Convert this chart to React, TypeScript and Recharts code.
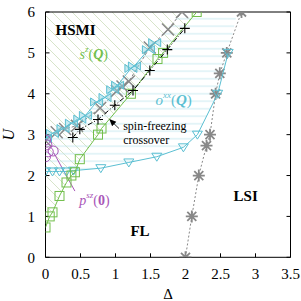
import React from 'react';
import { ComposedChart, XAxis, YAxis, Scatter, Area, ReferenceDot, ReferenceLine } from 'recharts';

const xTicks = [0, 0.5, 1, 1.5, 2, 2.5, 3, 3.5];
const yTicks = [0, 1, 2, 3, 4, 5, 6];

// s^z(Q) boundary (green squares)
const szQ = [
  { x: 0, y: 0.73 }, { x: 0.06, y: 1.0 }, { x: 0.1, y: 1.1 }, { x: 0.2, y: 1.5 },
  { x: 0.3, y: 1.83 }, { x: 0.37, y: 2.0 }, { x: 0.42, y: 2.08 }, { x: 0.49, y: 2.4 },
  { x: 0.75, y: 3.0 }, { x: 0.8, y: 3.15 }, { x: 1.22, y: 4.0 }, { x: 1.6, y: 4.85 },
  { x: 1.68, y: 5.0 }, { x: 2.16, y: 6.0 },
];

// o^xx(Q) lower / right edge (cyan down triangles)
const oxxEdge = [
  { x: 0, y: 2.1 }, { x: 0.1, y: 2.1 }, { x: 0.2, y: 2.1 }, { x: 0.3, y: 2.1 },
  { x: 0.4, y: 2.12 }, { x: 0.79, y: 2.18 }, { x: 1.19, y: 2.32 }, { x: 1.59, y: 2.46 },
  { x: 1.97, y: 2.69 }, { x: 2.17, y: 3.0 }, { x: 2.46, y: 4.0 }, { x: 2.61, y: 5.0 },
];

// o^xx(Q) upper edge (cyan bowties)
const oxxDiag = [
  { x: 0, y: 2.9 }, { x: 0.1, y: 3.03 }, { x: 0.25, y: 3.15 }, { x: 0.37, y: 3.28 },
  { x: 0.49, y: 3.38 }, { x: 0.57, y: 3.47 }, { x: 0.73, y: 3.8 }, { x: 0.85, y: 3.91 },
  { x: 0.96, y: 4.1 }, { x: 1.03, y: 4.21 }, { x: 1.22, y: 4.62 }, { x: 1.27, y: 4.68 },
  { x: 1.47, y: 5.08 }, { x: 1.56, y: 5.25 },
];

// hatched o^xx(Q) region
const oxxBand = [
  { x: 0, lo: 2.1, hi: 2.9 }, { x: 0.25, lo: 2.1, hi: 3.15 }, { x: 0.49, lo: 2.13, hi: 3.38 },
  { x: 0.73, lo: 2.17, hi: 3.8 }, { x: 0.96, lo: 2.24, hi: 4.1 }, { x: 1.22, lo: 2.33, hi: 4.62 },
  { x: 1.47, lo: 2.42, hi: 5.08 }, { x: 1.56, lo: 2.45, hi: 5.25 }, { x: 1.94, lo: 2.66, hi: 6 },
  { x: 2.17, lo: 3.0, hi: 6 }, { x: 2.46, lo: 4.0, hi: 6 }, { x: 2.61, lo: 5.0, hi: 6 },
  { x: 2.74, lo: 6, hi: 6 },
];

// gray crosses (diagonal)
const grayX = [
  { x: 0, y: 2.85 }, { x: 0.16, y: 3.06 }, { x: 0.28, y: 3.14 }, { x: 0.45, y: 3.22 },
  { x: 0.78, y: 3.65 }, { x: 1.02, y: 4.07 }, { x: 1.1, y: 4.18 }, { x: 1.19, y: 4.3 },
  { x: 1.49, y: 5.13 }, { x: 1.75, y: 5.57 }, { x: 1.95, y: 6.0 },
];

// LSI boundary (gray asterisks)
const lsiEdge = [
  { x: 2.0, y: 0 }, { x: 2.09, y: 1.0 }, { x: 2.19, y: 2.0 }, { x: 2.3, y: 2.73 },
  { x: 2.35, y: 3.0 }, { x: 2.43, y: 4.0 }, { x: 2.49, y: 4.5 }, { x: 2.59, y: 5.0 },
  { x: 2.8, y: 6.0 },
];

// spin-freezing crossover (black plus)
const freezing = [
  { x: 0.39, y: 2.93 }, { x: 0.49, y: 3.13 }, { x: 0.75, y: 3.37 }, { x: 0.99, y: 3.72 },
  { x: 1.25, y: 4.08 }, { x: 1.49, y: 4.57 }, { x: 1.74, y: 5.08 }, { x: 1.99, y: 5.6 },
];

// p^sz(0) (magenta circles)
const psz0 = [
  { x: 0, y: 2.87 }, { x: 0.02, y: 2.75 }, { x: 0.04, y: 2.58 }, { x: 0.11, y: 2.6 },
  { x: 0, y: 2.46 },
];

const greenBand = szQ.map((p) => ({ x: p.x, band: [p.y, 6] }));
const cyanBand = oxxBand.map((p) => ({ x: p.x, band: [p.lo, p.hi] }));

const GREEN = '#72bf4c';
const CYAN = '#5bbfd2';
const GRAY = '#888888';
const MAGENTA = '#a956b8';
const SERIF = 'Liberation Serif';

const square = (p: any) => (
  <rect x={p.cx - 4.5} y={p.cy - 4.5} width={9} height={9} fill="none" stroke={GREEN} strokeWidth={1} />
);
const downTri = (p: any) => (
  <path d={`M${p.cx - 5},${p.cy - 3.5} L${p.cx + 5},${p.cy - 3.5} L${p.cx},${p.cy + 4.5} Z`} fill="none" stroke={CYAN} strokeWidth={1} />
);
const bowtie = (p: any) => (
  <path
    d={`M${p.cx - 6},${p.cy - 4} L${p.cx},${p.cy} L${p.cx - 6},${p.cy + 4} Z M${p.cx + 6},${p.cy - 4} L${p.cx},${p.cy} L${p.cx + 6},${p.cy + 4} Z`}
    fill="#8fd6e4" fillOpacity={0.5} stroke={CYAN} strokeWidth={1}
  />
);
const cross = (p: any) => (
  <path d={`M${p.cx - 6},${p.cy - 6} L${p.cx + 6},${p.cy + 6} M${p.cx - 6},${p.cy + 6} L${p.cx + 6},${p.cy - 6}`} stroke={GRAY} strokeWidth={1.5} />
);
const asterisk = (p: any) => (
  <path
    d={`M${p.cx - 6},${p.cy} L${p.cx + 6},${p.cy} M${p.cx},${p.cy - 6} L${p.cx},${p.cy + 6} M${p.cx - 4.5},${p.cy - 4.5} L${p.cx + 4.5},${p.cy + 4.5} M${p.cx - 4.5},${p.cy + 4.5} L${p.cx + 4.5},${p.cy - 4.5}`}
    stroke={GRAY} strokeWidth={1.8}
  />
);
const plus = (p: any) => (
  <path d={`M${p.cx - 5},${p.cy} L${p.cx + 5},${p.cy} M${p.cx},${p.cy - 5} L${p.cx},${p.cy + 5}`} stroke="#000" strokeWidth={1.1} />
);
const circle = (p: any) => <circle cx={p.cx} cy={p.cy} r={5} fill="none" stroke={MAGENTA} strokeWidth={1} />;

// text placed at a data position
const note = (content: React.ReactNode, anchor = 'middle') => (p: any) => (
  <text x={p.cx} y={p.cy} textAnchor={anchor} dominantBaseline="central" style={{ fontFamily: SERIF }}>
    {content}
  </text>
);

const tickStyle = { fill: '#000', fontSize: 15, fontFamily: SERIF, style: { fontFamily: SERIF } };

export default function App() {
  return (
    <div style={{ position: 'fixed', left: 0, top: 0, width: 301, height: 301, background: '#fff', fontFamily: SERIF }}>
      <svg width={0} height={0} style={{ position: 'absolute' }}>
        <defs>
          <pattern id="hatchGreen" patternUnits="userSpaceOnUse" width={10} height={10}>
            <path d="M-2,-2 L12,12" stroke="#c6d9b2" strokeWidth={0.7} />
          </pattern>
          <pattern id="hatchCyan" patternUnits="userSpaceOnUse" width={10} height={7.5}>
            <path d="M-1,3.75 L11,3.75" stroke="#b3e0ea" strokeWidth={0.7} />
          </pattern>
          <marker id="arrowHead" markerWidth={8} markerHeight={8} refX={7} refY={4} orient="auto" markerUnits="userSpaceOnUse">
            <path d="M0,1 L7,4 L0,7 Z" fill="#000" />
          </marker>
        </defs>
      </svg>
      <ComposedChart width={301} height={301} margin={{ top: 11, right: 9.5, bottom: 13.7, left: 5.5 }}>
        <XAxis
          type="number" dataKey="x" domain={[0, 3.5]} ticks={xTicks} interval={0} allowDataOverflow
          height={30} tickSize={-4} tickMargin={14.6} stroke="#000" tick={tickStyle}
          label={{ value: 'Δ', position: 'bottom', offset: 0.6, style: { fill: '#000', fontSize: 15, fontFamily: SERIF } }}
        />
        <XAxis
          xAxisId="top" orientation="top" type="number" domain={[0, 3.5]} ticks={xTicks} interval={0}
          allowDataOverflow height={1} tickSize={-4} tickFormatter={() => ''} stroke="#000"
        />
        <YAxis
          type="number" dataKey="y" domain={[0, 6]} ticks={yTicks} interval={0} allowDataOverflow
          width={40} tickSize={-4} tickMargin={14.5} stroke="#000" tick={tickStyle}
          label={{ value: 'U', angle: -90, position: 'insideLeft', offset: 2.5, style: { textAnchor: 'middle', fill: '#000', fontSize: 16, fontStyle: 'italic', fontFamily: SERIF } }}
        />
        <YAxis
          yAxisId="right" orientation="right" type="number" domain={[0, 6]} ticks={yTicks} interval={0}
          allowDataOverflow width={1} tickSize={-4} tickFormatter={() => ''} stroke="#000"
        />

        <Area data={greenBand} dataKey="band" type="linear" stroke="none" fill="url(#hatchGreen)" fillOpacity={1} isAnimationActive={false} dot={false} activeDot={false} />
        <Area data={cyanBand} dataKey="band" type="linear" stroke="none" fill="url(#hatchCyan)" fillOpacity={1} isAnimationActive={false} dot={false} activeDot={false} />

        <Scatter data={lsiEdge} dataKey="y" shape={asterisk} line={{ stroke: GRAY, strokeWidth: 1, strokeDasharray: '2 2' }} isAnimationActive={false} />
        <Scatter data={oxxEdge} dataKey="y" shape={downTri} line={{ stroke: CYAN, strokeWidth: 1 }} isAnimationActive={false} />
        <Scatter data={szQ} dataKey="y" shape={square} line={{ stroke: GREEN, strokeWidth: 1 }} isAnimationActive={false} />
        <Scatter data={grayX} dataKey="y" shape={cross} line={{ stroke: GRAY, strokeWidth: 1, strokeDasharray: '3 2' }} isAnimationActive={false} />
        <Scatter data={oxxDiag} dataKey="y" shape={bowtie} line={{ stroke: CYAN, strokeWidth: 1 }} isAnimationActive={false} />
        <Scatter data={freezing} dataKey="y" shape={plus} line={{ stroke: '#000', strokeWidth: 1, strokeDasharray: '5 2 1 2' }} isAnimationActive={false} />
        <Scatter data={psz0} dataKey="y" shape={circle} isAnimationActive={false} />

        <ReferenceLine segment={[{ x: 0.12, y: 2.55 }, { x: 0.42, y: 1.62 }]} stroke={MAGENTA} strokeWidth={1} />
        <ReferenceLine segment={[{ x: 1.05, y: 3.15 }, { x: 0.91, y: 3.38 }]} stroke="#000" strokeWidth={0.8} markerEnd="url(#arrowHead)" />

        <ReferenceDot x={0.43} y={5.56} r={0} ifOverflow="visible" shape={note(<tspan fontWeight="bold" fontSize={15} fill="#000">HSMI</tspan>)} />
        <ReferenceDot x={1.35} y={0.65} r={0} ifOverflow="visible" shape={note(<tspan fontWeight="bold" fontSize={15} fill="#000">FL</tspan>)} />
        <ReferenceDot x={2.86} y={1.5} r={0} ifOverflow="visible" shape={note(<tspan fontWeight="bold" fontSize={15} fill="#000">LSI</tspan>)} />
        <ReferenceDot
          x={0.69} y={4.97} r={0} ifOverflow="visible"
          shape={note(
            <tspan fill={GREEN} fontSize={14}>
              <tspan fontStyle="italic">s</tspan>
              <tspan fontStyle="italic" fontSize={9} dy={-5}>z</tspan>
              <tspan dy={5}>(</tspan>
              <tspan fontStyle="italic" fontWeight="bold">Q</tspan>
              <tspan>)</tspan>
            </tspan>
          )}
        />
        <ReferenceDot
          x={1.83} y={3.85} r={0} ifOverflow="visible"
          shape={note(
            <tspan fill={CYAN} fontSize={15}>
              <tspan fontStyle="italic">o</tspan>
              <tspan fontStyle="italic" fontSize={9} dy={-5}>xx</tspan>
              <tspan dy={5}>(</tspan>
              <tspan fontStyle="italic" fontWeight="bold">Q</tspan>
              <tspan>)</tspan>
            </tspan>
          )}
        />
        <ReferenceDot
          x={0.7} y={1.4} r={0} ifOverflow="visible"
          shape={note(
            <tspan fill={MAGENTA} fontSize={14}>
              <tspan fontStyle="italic">p</tspan>
              <tspan fontStyle="italic" fontSize={9} dy={-5}>sz</tspan>
              <tspan dy={5}>(</tspan>
              <tspan fontWeight="bold">0</tspan>
              <tspan>)</tspan>
            </tspan>
          )}
        />
        <ReferenceDot x={1.11} y={3.2} r={0} ifOverflow="visible" shape={note(<tspan fontSize={12} fill="#000">spin-freezing</tspan>, 'start')} />
        <ReferenceDot x={1.11} y={2.87} r={0} ifOverflow="visible" shape={note(<tspan fontSize={12} fill="#000">crossover</tspan>, 'start')} />
      </ComposedChart>
    </div>
  );
}
